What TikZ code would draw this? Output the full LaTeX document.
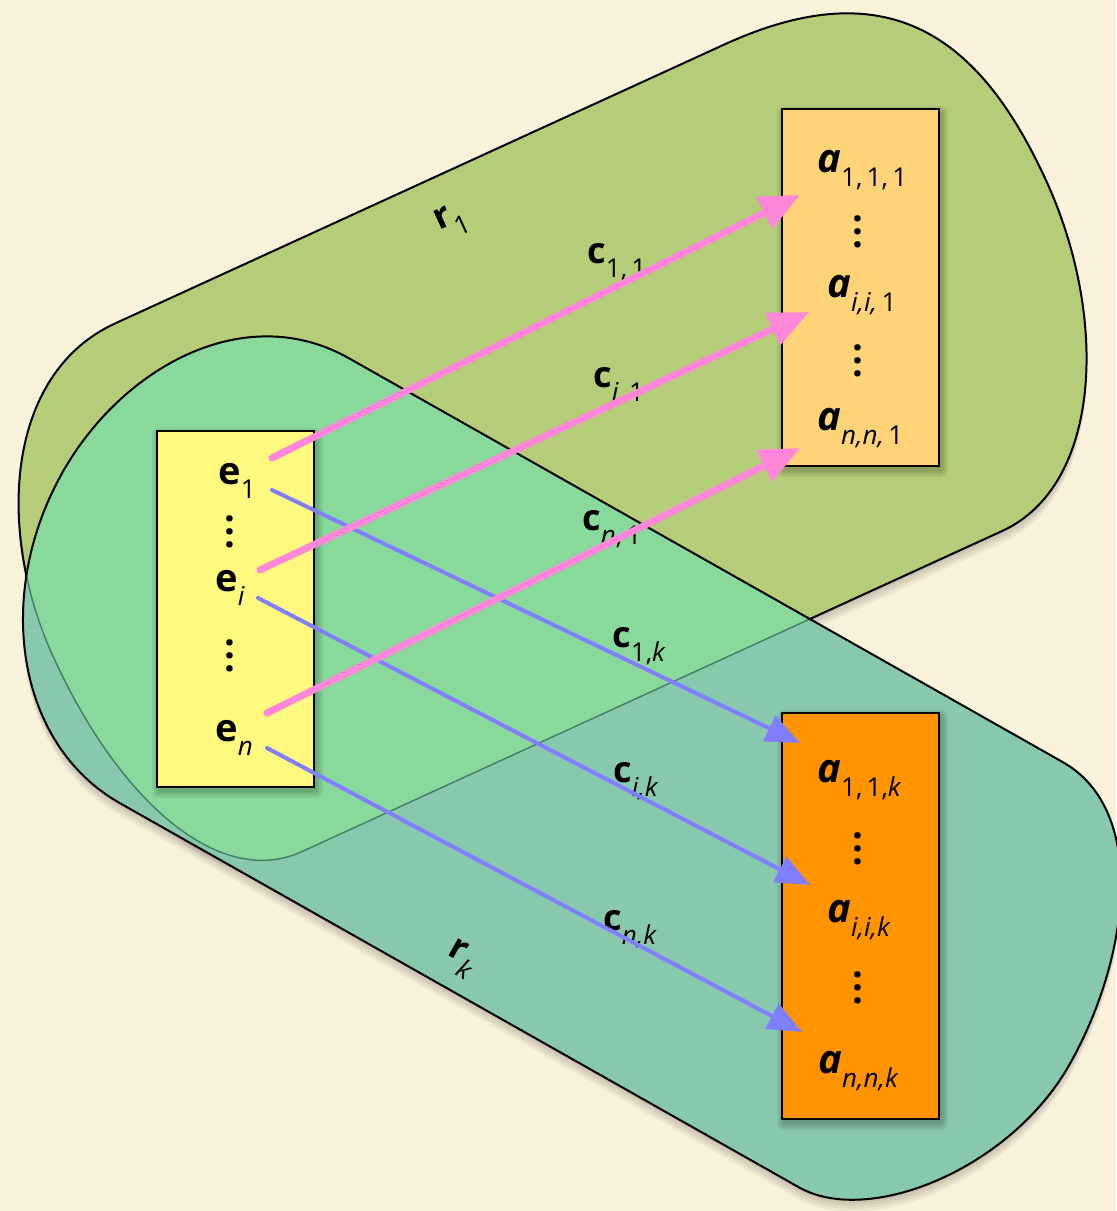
\documentclass[tikz,border=0pt]{standalone}
\usepackage{fontspec}
\setmainfont{Open Sans}
\usetikzlibrary{arrows.meta}
\definecolor{bgc}{HTML}{F9F2DB}
\definecolor{olivec}{HTML}{B5CC79}
\definecolor{tealc}{HTML}{88C8AC}
\definecolor{overc}{HTML}{89D99C}
\definecolor{dimc}{HTML}{3F7F62}
\definecolor{yelc}{HTML}{FFF97F}
\definecolor{lorc}{HTML}{FFD479}
\definecolor{orc}{HTML}{FF9300}
\definecolor{pinkc}{HTML}{FF87D9}
\definecolor{bluec}{HTML}{8080FF}
\newcommand\sbs[1]{\raisebox{-7pt}{\normalfont\fontsize{13}{13}\selectfont #1}}
\newcommand\vdts{\vbox{\baselineskip=6.3pt\lineskiplimit=-20pt\hbox{.}\hbox{.}\hbox{.}}}
\def\ronepath{(-30,342) -- (640,342) .. controls (820,342) and (876,440) .. (876,600) .. controls (876,750) and (800,900) .. (690,900) -- (-80,900) .. controls (-170,900) and (-225,780) .. (-225,620) .. controls (-225,480) and (-150,342) .. (-30,342) -- cycle}
\def\rkpath{(480,140) -- (1300,140) .. controls (1400,140) and (1455,280) .. (1455,400) .. controls (1455,520) and (1360,640) .. (1280,640) -- (500,640) .. controls (380,640) and (287,520) .. (287,380) .. controls (287,260) and (360,140) .. (480,140) -- cycle}
\begin{document}
\begin{tikzpicture}[x=0.5pt,y=-0.5pt,
  r1frame/.style={x={(0.4546pt,0.20815pt)},y={(0.20815pt,-0.4546pt)}},
  rkframe/.style={x={(0.4352pt,-0.2462pt)},y={(-0.2462pt,-0.4352pt)}},
  boxst/.style={draw=black,line width=1pt,inner sep=0pt,anchor=north west,minimum width=78.5pt},
  lab/.style={inner sep=0pt,anchor=base west},
  efont/.style={font=\fontsize{19}{19}\selectfont\bfseries},
  afont/.style={font=\fontsize{20}{20}\selectfont\bfseries\itshape},
  cfont/.style={font=\fontsize{18}{18}\selectfont\bfseries},
  dots/.style={inner sep=0pt,anchor=south,font=\fontsize{19}{19}\selectfont\bfseries},
  shadowst/.style={fill=black,opacity=0.05},
  pinkarrow/.style={draw=pinkc,line width=3.5pt,line cap=round,-{Triangle[length=20pt,width=17pt]}},
  bluearrow/.style={draw=bluec,line width=2pt,line cap=round,-{Triangle[length=17pt,width=14pt]}}
]
\useasboundingbox (0,0) rectangle (1116,1211);
\fill[bgc] (0,0) rectangle (1116,1211);
% soft shadows of the regions
\foreach \s in {3,6,9,12}{
  \begin{scope}[yshift=-\s*0.5pt,r1frame]
    \path[shadowst] \ronepath;
  \end{scope}
  \begin{scope}[yshift=-\s*0.5pt,rkframe]
    \path[shadowst] \rkpath;
  \end{scope}
}
% region r1
\begin{scope}[r1frame]
  \path[fill=olivec,draw=black,line width=1pt] \ronepath;
\end{scope}
% region rk
\begin{scope}[rkframe]
  \path[fill=tealc] \rkpath;
\end{scope}
% overlap
\begin{scope}[r1frame]
  \clip \ronepath;
  \begin{scope}[rkframe]
    \path[fill=overc] \rkpath;
  \end{scope}
\end{scope}
% dim r1 outline under rk
\begin{scope}[rkframe]
  \clip \rkpath;
  \begin{scope}[r1frame]
    \path[draw=dimc,line width=0.7pt] \ronepath;
  \end{scope}
\end{scope}
\begin{scope}[rkframe]
  \path[draw=black,line width=1pt] \rkpath;
\end{scope}
% region labels
\node[rotate=24.6,inner sep=0pt,font=\fontsize{18}{18}\selectfont\bfseries] (r1) at (452,221) {r\sbs{1}};
\node[rotate=-29.5,inner sep=0pt,font=\fontsize{18}{18}\selectfont\bfseries] (rk) at (461,959) {r\sbs{\itshape k}};
% box shadows
\foreach \bx/\by/\bw/\bh in {156/430/157/356, 781/108/157/357, 781/712/157/406}{
  \foreach \e in {1,3,5,7}{
    \fill[black,opacity=0.06,rounded corners=\e*0.5pt]
      (\bx+3-\e,\by+5-\e) rectangle (\bx+\bw+3+\e,\by+\bh+5+\e);
  }
}
% boxes
\node[boxst,fill=yelc,minimum height=178pt] (ebox) at (156,430) {};
\node[boxst,fill=lorc,minimum height=178.5pt] (abox1) at (781,108) {};
\node[boxst,fill=orc,minimum height=203pt] (aboxk) at (781,712) {};
% e labels
\node[lab,efont] (e1) at (218,484) {e\sbs{1}};
\node[lab,efont] (ei) at (215,591) {e\sbs{\itshape i}};
\node[lab,efont] (en) at (215,741) {e\sbs{\itshape n}};
\node[dots] (ed1) at (230,548) {\vdts};
\node[dots] (ed2) at (230,672) {\vdts};
% a labels
\node[lab,afont] (a111) at (817,172) {a\sbs{1,\,1,\,1}};
\node[lab,afont] (aii1) at (827,297) {a\sbs{\itshape i,i,\upshape\,1}};
\node[lab,afont] (ann1) at (817,430) {a\sbs{\itshape n,n,\upshape\,1}};
\node[dots] (ad1) at (858,248) {\vdts};
\node[dots] (ad2) at (858,377) {\vdts};
\node[lab,afont] (a11k) at (817,782) {a\sbs{1,\,1,\itshape k}};
\node[lab,afont] (aiik) at (827,922) {a\sbs{\itshape i,i,k}};
\node[lab,afont] (annk) at (818,1073) {a\sbs{\itshape n,n,k}};
\node[dots] (ad3) at (858,865) {\vdts};
\node[dots] (ad4) at (858,1004) {\vdts};
% c labels
\node[lab,cfont] (c11) at (587,263) {c\sbs{1,\,1}};
\node[lab,cfont] (ci1) at (593,387) {c\sbs{\itshape i\upshape ,\,1}};
\node[lab,cfont] (cn1) at (582,530) {c\sbs{\itshape n\upshape ,\,1}};
\node[lab,cfont] (c1k) at (612,647) {c\sbs{1,\itshape k}};
\node[lab,cfont] (cik) at (613,782) {c\sbs{\itshape i,k}};
\node[lab,cfont] (cnk) at (603,930) {c\sbs{\itshape n,k}};
% arrow end points
\coordinate (ps1) at (272,458); \coordinate (pt1) at (800,195);
\coordinate (ps2) at (260,570); \coordinate (pt2) at (809,312);
\coordinate (ps3) at (267,713); \coordinate (pt3) at (800,448);
\coordinate (bs1) at (272,490); \coordinate (bt1) at (800,743);
\coordinate (bs2) at (258,598); \coordinate (bt2) at (810,885);
\coordinate (bs3) at (267,748); \coordinate (bt3) at (802,1032);
\draw[bluearrow] (bs1) -- (bt1);
\draw[bluearrow] (bs2) -- (bt2);
\draw[bluearrow] (bs3) -- (bt3);
\draw[pinkarrow] (ps1) -- (pt1);
\draw[pinkarrow] (ps2) -- (pt2);
\draw[pinkarrow] (ps3) -- (pt3);
\end{tikzpicture}
\end{document}
